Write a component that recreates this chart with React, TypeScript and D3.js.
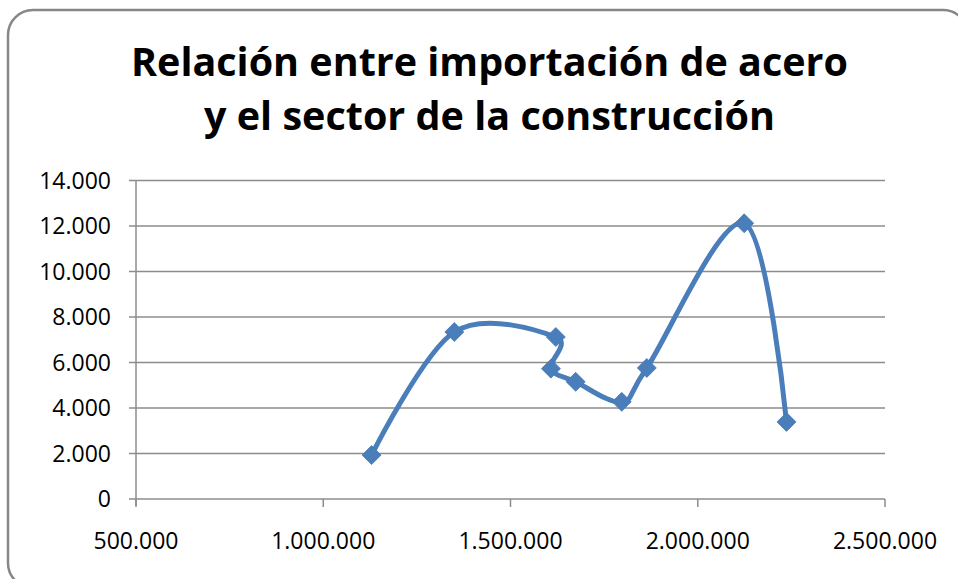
import React from "react";
import * as d3 from "d3";

const titleLines = ["Relación entre importación de acero", "y el sector de la construcción"];
const importX = [1129000, 1350000, 1621000, 1608000, 1674000, 1797000, 1864000, 2124000, 2237000];
const constructionY = [1930, 7340, 7120, 5730, 5150, 4270, 5760, 12120, 3390];
const xTicks = [500000, 1000000, 1500000, 2000000, 2500000];
const yTicks = [0, 2000, 4000, 6000, 8000, 10000, 12000, 14000];

const W = 958;
const H = 579;
const fmt = (v: number) => d3.format(",")(v).replace(/,/g, ".");

export default function App() {
  const x = d3.scaleLinear().domain([500000, 2500000]).range([136, 885]);
  const y = d3.scaleLinear().domain([0, 14000]).range([499, 180.5]);
  const pts: [number, number][] = importX.map((v, i) => [x(v), y(constructionY[i])]);
  const line = d3.line().curve(d3.curveCatmullRom.alpha(0))(pts) || "";
  const diamond = (cx: number, cy: number, r: number) =>
    `M${cx},${cy - r}L${cx + r},${cy}L${cx},${cy + r}L${cx - r},${cy}Z`;
  const grid = "#8c8c8c";
  const blue = "#4a7ebb";
  const font = "'Open Sans', 'Noto Sans', sans-serif";

  return (
    <svg width={W} height={H} style={{ position: "absolute", left: 0, top: 0, background: "#fff" }}>
      <rect x={8} y={10} width={960} height={578} rx={25} ry={25} fill="#fff" stroke="#878787" strokeWidth={2.5} />
      <text x={489.5} y={76} textAnchor="middle" fontFamily={font} fontWeight="bold" fontSize={39}
        textLength={717} lengthAdjust="spacingAndGlyphs" fill="#000">{titleLines[0]}</text>
      <text x={489.5} y={130} textAnchor="middle" fontFamily={font} fontWeight="bold" fontSize={39}
        textLength={571} lengthAdjust="spacingAndGlyphs" fill="#000">{titleLines[1]}</text>
      {yTicks.map((t) => (
        <g key={"y" + t}>
          <line x1={129} x2={885} y1={y(t)} y2={y(t)} stroke={grid} strokeWidth={1.5} />
          <text x={111} y={y(t) + 8} textAnchor="end" fontFamily={font} fontSize={23} fill="#000">{fmt(t)}</text>
        </g>
      ))}
      <line x1={136} x2={136} y1={180.5} y2={506} stroke={grid} strokeWidth={1.5} />
      {xTicks.map((t) => (
        <g key={"x" + t}>
          <line x1={x(t)} x2={x(t)} y1={499} y2={507} stroke={grid} strokeWidth={1.5} />
          <text x={x(t)} y={549} textAnchor="middle" fontFamily={font} fontSize={23} fill="#000">{fmt(t)}</text>
        </g>
      ))}
      <path d={line} fill="none" stroke={blue} strokeWidth={5} strokeLinejoin="round" strokeLinecap="round" />
      {pts.map(([cx, cy], i) => (
        <path key={"m" + i} d={diamond(cx, cy, 9.5)} fill={blue} stroke="#4577b3" strokeWidth={0.75} />
      ))}
    </svg>
  );
}
